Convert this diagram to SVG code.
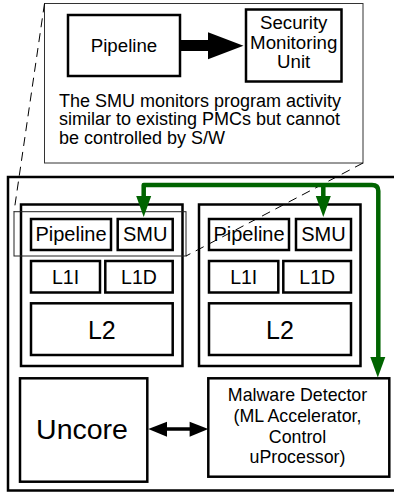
<svg xmlns="http://www.w3.org/2000/svg" width="394" height="492" viewBox="0 0 394 492">
<style>
text{font-family:"Liberation Sans",Arial,Helvetica,sans-serif;fill:#000;text-anchor:middle}
.b{fill:#fff;stroke:#000;stroke-width:2.5}
.nf{fill:none;stroke:#000;stroke-width:2.5}
.thin{fill:none;stroke:#222;stroke-width:1}
.dash{fill:none;stroke:#000;stroke-width:1;stroke-dasharray:9,6}
.g{fill:none;stroke:#006400;stroke-width:4.5;stroke-linejoin:round}
.gh{fill:#006400}
.t18{font-size:18.7px}
.t20{font-size:20px}
.t19{font-size:19.5px}
.t25{font-size:25px}
</style>
<rect id="chip" class="nf" x="8" y="177" width="400" height="313.5"/>
<g id="callout">
<rect x="44.5" y="3.5" width="318.5" height="159.5" fill="#fff" stroke="#333" stroke-width="1"/>
<g id="callout-pipeline"><rect class="b" x="68" y="15" width="112" height="61"/><text class="t18" x="124" y="51.5">Pipeline</text></g>
<g id="callout-smu"><rect class="b" x="246" y="9.5" width="95.5" height="72"/>
<text class="t18" x="293.7" y="29">Security</text><text class="t18" x="293.7" y="48.5">Monitoring</text><text class="t18" x="293.7" y="68">Unit</text></g>
<g id="callout-text"><text x="59" y="106.5" font-size="18px" style="text-anchor:start">The SMU monitors program activity</text>
<text x="59" y="125" font-size="18px" style="text-anchor:start">similar to existing PMCs but cannot</text>
<text x="59" y="143.5" font-size="18px" style="text-anchor:start">be controlled by S/W</text></g>
</g>
<g id="core1">
<rect class="nf" x="21" y="204.5" width="161.5" height="161.5"/>
<g id="core1-pipeline"><rect class="nf" x="31" y="219" width="80" height="31"/><text class="t20" x="71" y="241">Pipeline</text></g>
<g id="core1-smu"><rect class="nf" x="117.7" y="219" width="55" height="31"/><text class="t20" x="145.2" y="241">SMU</text></g>
<g id="core1-l1i"><rect class="nf" x="31" y="261" width="69" height="31.5"/><text class="t19" x="65.5" y="283.5">L1I</text></g>
<g id="core1-l1d"><rect class="nf" x="105.3" y="261" width="67.4" height="31.5"/><text class="t19" x="139" y="283.5">L1D</text></g>
<g id="core1-l2"><rect class="nf" x="31" y="303.3" width="141.7" height="51.7"/><text class="t25" x="101.8" y="339.3">L2</text></g>
</g>
<g id="core2">
<rect class="nf" x="199" y="204.5" width="161.5" height="161.5"/>
<g id="core2-pipeline"><rect class="nf" x="209" y="219" width="80" height="31"/><text class="t20" x="249" y="241">Pipeline</text></g>
<g id="core2-smu"><rect class="nf" x="296" y="219" width="55" height="31"/><text class="t20" x="323.5" y="241">SMU</text></g>
<g id="core2-l1i"><rect class="nf" x="209" y="261" width="69.3" height="31.5"/><text class="t19" x="243.7" y="283.5">L1I</text></g>
<g id="core2-l1d"><rect class="nf" x="283.3" y="261" width="67.7" height="31.5"/><text class="t19" x="317.2" y="283.5">L1D</text></g>
<g id="core2-l2"><rect class="nf" x="209" y="303.3" width="142" height="51.7"/><text class="t25" x="280" y="339.3">L2</text></g>
</g>
<g id="uncore"><rect class="nf" x="20" y="378.3" width="127.3" height="103.4"/><text x="82" y="439.3" font-size="28.5px">Uncore</text></g>
<g id="malware-detector"><rect class="nf" x="208.3" y="378.3" width="181" height="98.4"/>
<text x="297.5" y="401" font-size="17.8px">Malware Detector</text>
<text x="297.5" y="422" font-size="17.8px">(ML Accelerator,</text>
<text x="297.5" y="442.5" font-size="17.8px">Control</text>
<text x="297.5" y="462.5" font-size="17.8px">uProcessor)</text></g>
<g id="connectors">
<rect class="thin" x="14" y="211.7" width="172" height="44.3"/>
<path class="dash" d="M44.5,3.5 L14,211.7"/>
<path class="dash" d="M363,163 L186,256"/>
<rect x="179" y="40" width="31" height="11" fill="#000"/>
<polygon points="208,32.3 243.5,45.7 208,59.3" fill="#000"/>
<path class="g" d="M143.7,198 V185 H372 Q378.3,185 378.3,191 V360"/>
<path class="g" d="M323.3,185 V198"/>
<polygon class="gh" points="136.2,196 151.2,196 143.7,217"/>
<polygon class="gh" points="315.8,196 330.8,196 323.3,217"/>
<polygon class="gh" points="370.3,357 385.3,357 377.8,377.5"/>
<line x1="164" y1="429" x2="192" y2="429" stroke="#000" stroke-width="3.5"/>
<polygon points="148.3,429 167,421.7 167,436.7" fill="#000"/>
<polygon points="208.3,429 189.6,421.7 189.6,436.7" fill="#000"/>
</g>
</svg>
